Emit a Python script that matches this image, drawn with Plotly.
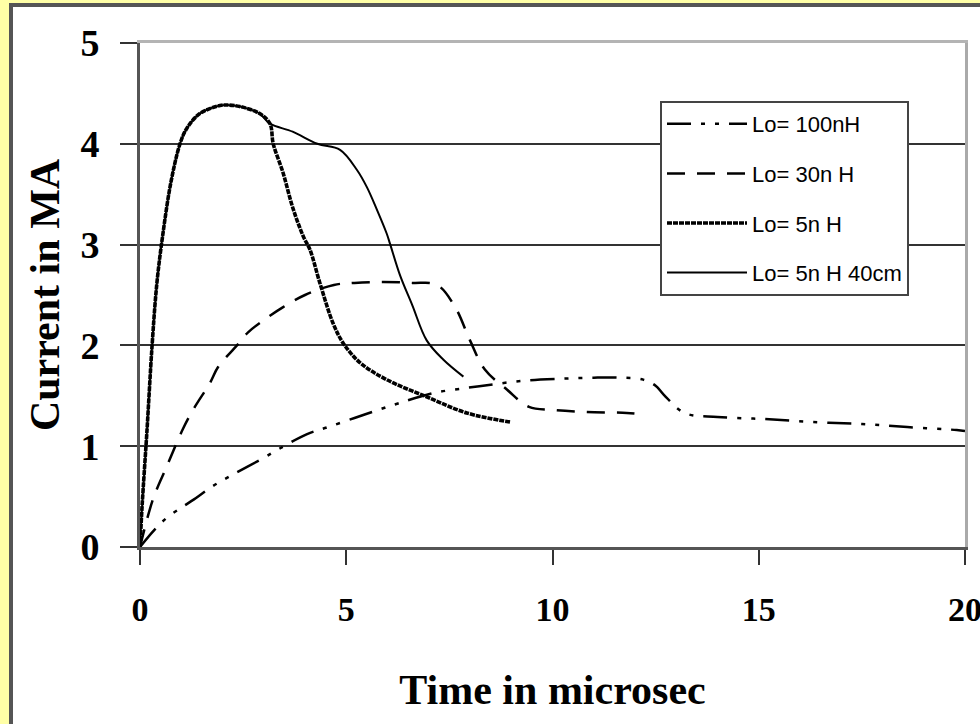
import plotly.graph_objects as go

# ---- data (time in microseconds, current in MA) ----
t_100nH = [0, 0.35, 0.65, 1.0, 1.3, 1.75, 2.26, 2.98, 3.4, 4.05, 4.56, 5.2, 5.7, 6.3, 7.15,
           7.95, 8.5, 9.3, 10.25, 11.0, 11.7, 12.2, 12.5, 12.7, 13.2, 14.0, 15.1, 16.3,
           17.5, 18.6, 19.8, 20]
i_100nH = [0, 0.17, 0.29, 0.39, 0.47, 0.6, 0.72, 0.88, 0.98, 1.12, 1.19, 1.28, 1.35, 1.43,
           1.53, 1.58, 1.61, 1.65, 1.67, 1.68, 1.68, 1.66, 1.6, 1.51, 1.33, 1.29, 1.27,
           1.24, 1.22, 1.19, 1.16, 1.15]

t_30nH = [0, 0.32, 0.65, 1.04, 1.3, 1.7, 1.9, 2.35, 2.62, 3.1, 3.47, 4.0, 4.7, 5.2, 5.9,
          6.6, 7.2, 7.64, 8.0, 8.36, 8.9, 9.43, 10.0, 10.8, 11.8, 12.1]
i_30nH = [0, 0.48, 0.8, 1.17, 1.37, 1.63, 1.79, 2.0, 2.13, 2.28, 2.38, 2.5, 2.6, 2.62, 2.63,
          2.62, 2.6, 2.38, 2.05, 1.76, 1.56, 1.39, 1.36, 1.34, 1.33, 1.32]

t_5nH = [0, 0.05, 0.17, 0.29, 0.41, 0.56, 0.75, 0.97, 1.13, 1.45, 1.94, 2.1, 2.42, 2.9, 3.15,
         3.23, 3.47, 3.7, 3.96, 4.12, 4.36, 4.68, 4.93, 5.33, 5.98, 6.95, 7.92, 8.97]
i_5nH = [0, 0.4, 1.16, 1.98, 2.62, 3.12, 3.62, 4.0, 4.15, 4.3, 4.38, 4.385, 4.37, 4.3, 4.2,
         4.0, 3.71, 3.37, 3.08, 2.95, 2.62, 2.22, 2.02, 1.83, 1.66, 1.49, 1.33, 1.24]

t_5nH40 = [0, 0.05, 0.17, 0.29, 0.41, 0.56, 0.75, 0.97, 1.13, 1.45, 1.94, 2.1, 2.42, 2.9, 3.15,
           3.7, 4.3, 4.85, 5.26, 5.5, 5.75, 5.98, 6.06, 6.3, 6.6, 6.95, 7.35, 7.84]
i_5nH40 = [0, 0.4, 1.16, 1.98, 2.62, 3.12, 3.62, 4.0, 4.15, 4.3, 4.38, 4.385, 4.37, 4.3, 4.2,
           4.12, 4.0, 3.94, 3.74, 3.57, 3.34, 3.11, 3.01, 2.7, 2.4, 2.05, 1.86, 1.69]

names = ["Lo= 100nH", "Lo= 30n H", "Lo= 5n H", "Lo= 5n H 40cm"]
x_ticks = [0, 5, 10, 15, 20]
y_ticks = [0, 1, 2, 3, 4, 5]

series = [
    (t_100nH, i_100nH, dict(color="black", width=2.5, dash="24px,10px,4px,10px,4px,10px")),
    (t_30nH, i_30nH, dict(color="black", width=2.5, dash="18px,12px")),
    (t_5nH, i_5nH, dict(color="black", width=3.6, dash="5px,1px")),
    (t_5nH40, i_5nH40, dict(color="black", width=2)),
]

fig = go.Figure()
for (tx, iy, ln), nm in zip(series, names):
    fig.add_trace(go.Scatter(x=tx, y=iy, mode="lines", name=nm, line=ln,
                             legendgroup=nm, line_shape="spline"))

W, H = 980, 724
L, R, T, B = 140, 15, 43, 177
pw, ph = W - L - R, H - T - B

def px_x(p):
    return (p - L) / pw

def px_y(p):
    return (H - B - p) / ph

serif = "Liberation Serif, Times New Roman, serif"

fig.update_layout(
    width=W, height=H,
    margin=dict(l=L, r=R, t=T, b=B, autoexpand=False),
    paper_bgcolor="#FFFFA6",
    plot_bgcolor="white",
    showlegend=True,
    legend=dict(
        x=px_x(660), y=px_y(101), xanchor="left", yanchor="top",
        bgcolor="white", bordercolor="#444", borderwidth=2,
        font=dict(family="Liberation Sans, Arial, sans-serif", size=22, color="black"),
        tracegroupgap=18, itemwidth=80,
    ),
    xaxis=dict(
        range=[0, 20], tickvals=x_ticks, ticktext=[str(v) for v in x_ticks],
        showgrid=False, zeroline=False,
        showline=True, linecolor="#555", linewidth=3,
        ticks="outside", ticklen=15, tickwidth=2, tickcolor="#333",
        tickfont=dict(family=serif, size=34, color="black", weight="bold"),
        ticklabelstandoff=15, ticklabeloverflow="allow",
        title=dict(text="Time in microsec", standoff=48,
                   font=dict(family=serif, size=42, color="black", weight="bold")),
        automargin=False,
    ),
    yaxis=dict(
        range=[0, 5], tickvals=y_ticks, ticktext=[str(v) for v in y_ticks],
        showgrid=True, gridcolor="#333", gridwidth=2, zeroline=False,
        showline=True, linecolor="#555", linewidth=3,
        ticks="outside", ticklen=17, tickwidth=2, tickcolor="#333",
        tickfont=dict(family=serif, size=38, color="black", weight="bold"),
        ticklabelstandoff=13, ticklabeloverflow="allow",
        title=dict(text="Current in MA", standoff=8,
                   font=dict(family=serif, size=42, color="black", weight="bold")),
        automargin=False,
    ),
    xaxis2=dict(overlaying="x", side="top", range=[0, 20], showline=True,
                linecolor="#b4b4b4", linewidth=3, showticklabels=False,
                showgrid=False, zeroline=False, ticks=""),
    yaxis2=dict(overlaying="y", side="right", range=[0, 5], showline=True,
                linecolor="#aaaaaa", linewidth=3, showticklabels=False,
                showgrid=False, zeroline=False, ticks=""),
    shapes=[dict(type="rect", xref="paper", yref="paper", layer="below",
                 x0=px_x(11), x1=px_x(W + 20), y0=px_y(H + 20), y1=px_y(5),
                 fillcolor="white", line=dict(color="#555", width=4))],
)

# invisible helper trace to activate the top/right border axes
fig.add_trace(go.Scatter(x=[None], y=[None], xaxis="x2", yaxis="y2",
                         showlegend=False, hoverinfo="skip"))

fig.write_html("out.html")
